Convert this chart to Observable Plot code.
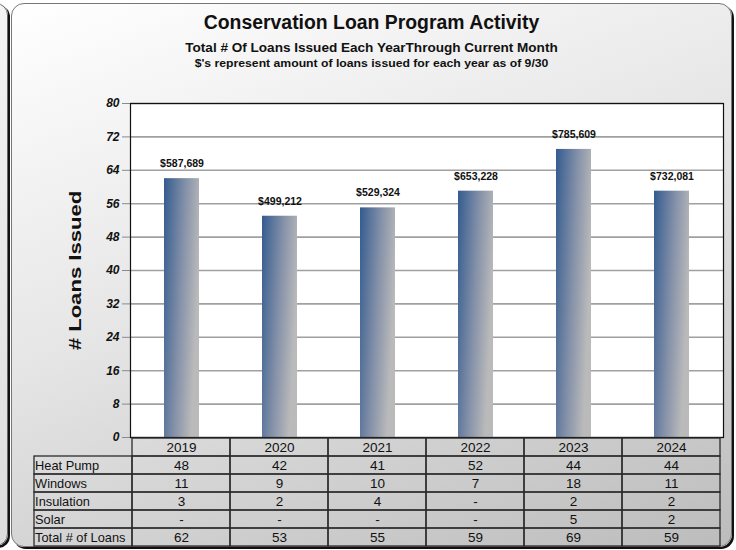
<!DOCTYPE html>
<html>
<head>
<meta charset="utf-8">
<script src="https://cdn.jsdelivr.net/npm/d3@7"></script>
<script src="https://cdn.jsdelivr.net/npm/@observablehq/plot@0.6"></script>
<style>
  html, body { margin: 0; padding: 0; background: #fff; }
  #wrap { position: relative; width: 736px; height: 550px; overflow: hidden; font-family: "Liberation Sans", Arial, sans-serif; background: #fff; }
  .leftpanel { position: absolute; left: -200px; top: 3px; width: 206px; height: 541px; border: 1px solid #666; border-radius: 12px; box-shadow: 2px 2px 0 #111; background: linear-gradient(to bottom, #f4f4f4, #dcdcdc); }
  .panel { position: absolute; left: 11px; top: 3px; width: 719px; height: 542px; border: 1px solid #777; border-radius: 13px; box-shadow: 2px 2px 0 #111; background: linear-gradient(160deg, #ffffff 0%, #e6e6e6 45%, #bcbcbc 100%); }
  .t { position: absolute; left: 11px; width: 721px; text-align: center; font-weight: bold; color: #111; white-space: nowrap; }
  .abs { position: absolute; left: 0; top: 0; }
</style>
</head>
<body>
<div id="wrap">
  <div class="leftpanel"></div>
  <div class="panel"></div>
  <div class="t" style="top:13px;font-size:19.4px;line-height:19px;">Conservation Loan Program Activity</div>
  <div class="t" style="top:42px;font-size:12px;line-height:12px;transform:scaleX(1.13);">Total # Of Loans Issued Each YearThrough Current Month</div>
  <div class="t" style="top:58px;font-size:11px;line-height:11px;transform:scaleX(1.11);">$'s represent amount of loans issued for each year as of 9/30</div>
</div>
<script>
const years = ["2019", "2020", "2021", "2022", "2023", "2024"];
const totals = [62, 53, 55, 59, 69, 59];
const amounts = ["$587,689", "$499,212", "$529,324", "$653,228", "$785,609", "$732,081"];
const heatPump = [48, 42, 41, 52, 44, 44];
const windowsLoans = [11, 9, 10, 7, 18, 11];
const insulation = [3, 2, 4, null, 2, 2];
const solar = [null, null, null, null, 5, 2];
const rowNames = ["Heat Pump", "Windows", "Insulation", "Solar", "Total # of Loans"];
const yTicks = [0, 8, 16, 24, 32, 40, 48, 56, 64, 72, 80];
const yLabel = "# Loans Issued";

const FONT = "Liberation Sans, Arial, sans-serif";
const bars = years.map((y, i) => ({year: y, total: totals[i], amount: amounts[i]}));

const gradDefs = () => {
  const defs = d3.create("svg:defs");
  const g = defs.append("linearGradient").attr("id", "barGrad")
    .attr("x1", 0).attr("y1", 0).attr("x2", 1).attr("y2", 0.35);
  g.append("stop").attr("offset", "0%").attr("stop-color", "#335b8f");
  g.append("stop").attr("offset", "55%").attr("stop-color", "#8390a8");
  g.append("stop").attr("offset", "100%").attr("stop-color", "#bababa");
  return defs.node();
};

const left = 130, right = 723;
const chart = Plot.plot({
  width: 736, height: 550,
  marginLeft: left, marginRight: 736 - right, marginTop: 103, marginBottom: 113,
  style: {fontFamily: FONT, background: "transparent", overflow: "visible", color: "#111"},
  x: {domain: years, paddingInner: 0.645, paddingOuter: 0.3225, axis: null},
  y: {domain: [0, 80], axis: null},
  marks: [
    gradDefs,
    Plot.frame({fill: "white", stroke: null}),
    Plot.gridY(yTicks, {stroke: "#a0a0a0", strokeOpacity: 1, strokeWidth: 1.6}),
    Plot.axisY(yTicks, {tickSize: 8, tickPadding: 3, stroke: "#8a8a8a", fontWeight: "bold", fontStyle: "italic", fontSize: 12, label: null}),
    Plot.barY(bars, {x: "year", y: "total", fill: "url(#barGrad)"}),
    Plot.text(bars, {x: "year", y: "total", text: "amount", dy: -15, fontWeight: "bold", fontSize: 10.5, fill: "#111"}),
    Plot.frame({stroke: "#111", strokeWidth: 1.2}),
    Plot.text([yLabel], {frameAnchor: "left", text: d => d, rotate: -90, dx: -55, textAnchor: "middle", fontSize: 17, fontWeight: "bold", fill: "#111", className: "ylab"})
  ]
});
chart.classList.add("abs");
// stretch the rotated axis title along its length, as in the reference
d3.select(chart).selectAll(".ylab text").attr("transform", function() {
  return (this.getAttribute("transform") || "") + " scale(1.3,1)";
});
document.getElementById("wrap").appendChild(chart);

// data table
const LABEL = " ";
const HEADER = "year";
const rowValues = [heatPump, windowsLoans, insulation, solar, totals];
const valueCells = rowNames.flatMap((r, i) => years.map((yr, j) => ({row: r, col: yr, text: rowValues[i][j] == null ? "-" : String(rowValues[i][j])})));
const labelCells = rowNames.map(r => ({row: r, col: LABEL, text: r}));
const headerCells = years.map(yr => ({row: HEADER, col: yr, text: yr}));
const step = (right - left) / years.length;

const table = Plot.plot({
  width: 736, height: 113,
  marginTop: 0, marginBottom: 3, marginLeft: left - step, marginRight: 736 - right,
  style: {fontFamily: FONT, background: "transparent", overflow: "visible", color: "#111"},
  x: {type: "band", domain: [LABEL, ...years], padding: 0, axis: null},
  y: {type: "band", domain: [HEADER, ...rowNames], padding: 0, axis: null},
  marks: [
    Plot.cell([...headerCells, ...labelCells, ...valueCells], {x: "col", y: "row", fill: "none", stroke: "#2b2b2b", strokeWidth: 1.3, inset: 0}),
    Plot.text([...headerCells, ...valueCells], {x: "col", y: "row", text: "text", fontSize: 13.5, fill: "#111"}),
    Plot.text(labelCells, {x: "col", y: "row", text: "text", fontSize: 12.8, fill: "#111", textAnchor: "start", dx: -step / 2 + 1})
  ]
});
table.classList.add("abs");
table.style.top = "437px";
document.getElementById("wrap").appendChild(table);
</script>
</body>
</html>
